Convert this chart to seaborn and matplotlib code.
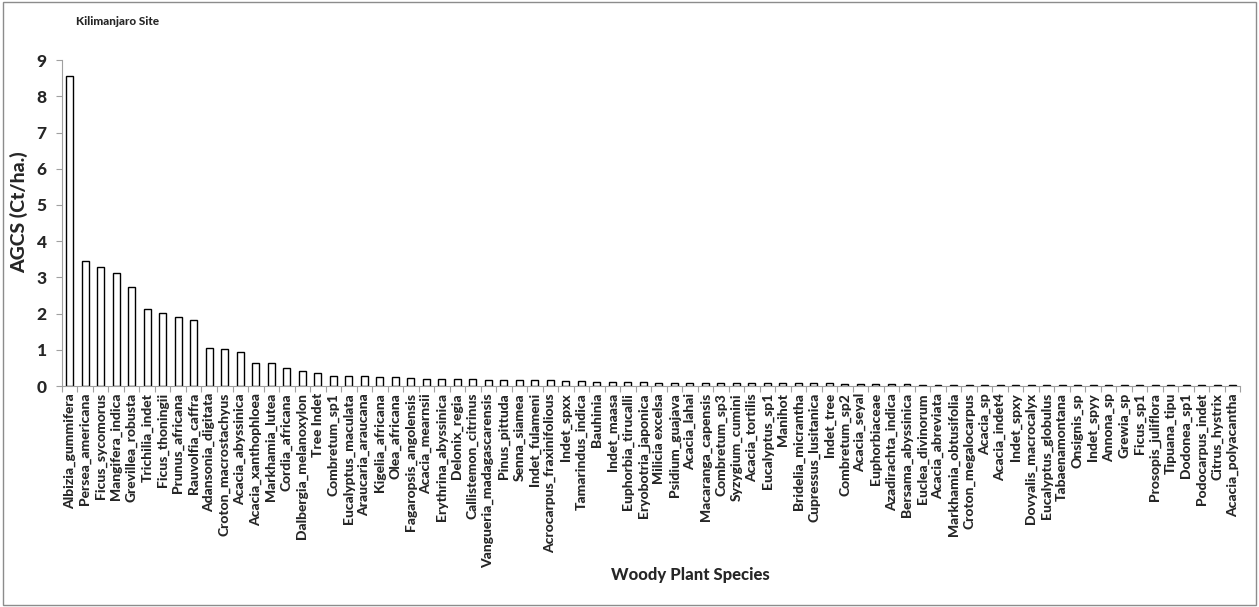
import numpy as np
import pandas as pd
import matplotlib
matplotlib.use("Agg")
import matplotlib.pyplot as plt
import seaborn as sns
from matplotlib.patches import Rectangle

species = [
    "Albizia_gummifera", "Persea_americana", "Ficus_sycomorus", "Mangifera_indica",
    "Grevillea_robusta", "Trichilia_indet", "Ficus_thoningii", "Prunus_africana",
    "Rauvolfia_caffra", "Adansonia_digitata", "Croton_macrostachyus", "Acacia_abyssinica",
    "Acacia_xanthophloea", "Markhamia_lutea", "Cordia_africana", "Dalbergia_melanoxylon",
    "Tree Indet", "Combretum_sp1", "Eucalyptus_maculata", "Araucaria_araucana",
    "Kigelia_africana", "Olea_africana", "Fagaropsis_angolensis", "Acacia_mearnsii",
    "Erythrina_abyssinica", "Delonix_regia", "Callistemon_citrinus", "Vangueria_madagascarensis",
    "Pinus_pittuda", "Senna_siamea", "Indet_fulameni", "Acrocarpus_fraxinifolious",
    "Indet_spxx", "Tamarindus_indica", "Bauhinia", "Indet_maasa",
    "Euphorbia_tirucalli", "Eryobotria_japonica", "Milicia excelsa", "Psidium_guajava",
    "Acacia_lahai", "Macaranga_capensis", "Combretum_sp3", "Syzygium_cumini",
    "Acacia_tortilis", "Eucalyptus_sp1", "Manihot", "Bridelia_micrantha",
    "Cupressus_lusitanica", "Indet_tree", "Combretum_sp2", "Acacia_seyal",
    "Euphorbiaceae", "Azadirachta_indica", "Bersama_abyssinica", "Euclea_divinorum",
    "Acacia_abreviata", "Markhamia_obtusifolia", "Croton_megalocarpus", "Acacia_sp",
    "Acacia_indet4", "Indet_spxy", "Dovyalis_macrocalyx", "Eucalyptus_globulus",
    "Tabaenamontana", "Onsignis_sp", "Indet_spyy", "Annona_sp",
    "Grewia_sp", "Ficus_sp1", "Prosopis_juliflora", "Tipuana_tipu",
    "Dodonea_sp1", "Podocarpus_indet", "Citrus_hystrix", "Acacia_polyacantha",
]

agcs = [
    8.55, 3.45, 3.28, 3.12, 2.73, 2.12, 2.01, 1.92, 1.83, 1.04,
    1.01, 0.93, 0.64, 0.64, 0.51, 0.42, 0.36, 0.29, 0.29, 0.27,
    0.25, 0.24, 0.22, 0.20, 0.20, 0.20, 0.20, 0.18, 0.18, 0.18,
    0.18, 0.16, 0.15, 0.15, 0.12, 0.10, 0.10, 0.10, 0.09, 0.09,
    0.09, 0.09, 0.09, 0.09, 0.09, 0.09, 0.08, 0.08, 0.08, 0.08,
    0.07, 0.07, 0.06, 0.05, 0.05, 0.04, 0.04, 0.04, 0.03, 0.03,
    0.03, 0.03, 0.03, 0.03, 0.03, 0.03, 0.02, 0.02, 0.02, 0.02,
    0.02, 0.02, 0.02, 0.02, 0.02, 0.02,
]

df = pd.DataFrame({"Species": species, "AGCS": agcs})

sns.set_theme(style="white")
plt.rcParams["font.family"] = ["Lato", "DejaVu Sans"]

fig = plt.figure(figsize=(12.59, 6.07), dpi=100)
ax = fig.add_axes([0.0492, 0.364, 0.936, 0.537])

sns.barplot(data=df, x="Species", y="AGCS", ax=ax, color="white",
            edgecolor="black", linewidth=1.0, width=0.45, saturation=1)

ax.set_ylim(0, 9)
ax.set_xlim(-0.5, len(species) - 0.5)
ax.set_yticks(range(0, 10))
ax.tick_params(axis="y", labelsize=12.5, length=4, width=0.8, color="#a0a0a0",
               direction="out", left=True, pad=7)
for t in ax.get_yticklabels():
    t.set_fontweight(900)

ax.set_xticks(range(len(species)))
ax.set_xticklabels(species, rotation=90, fontsize=10, fontweight=900)
ax.tick_params(axis="x", which="major", length=0, pad=5)
ax.set_xticks(np.arange(-0.5, len(species)), minor=True)
ax.tick_params(axis="x", which="minor", length=4, width=0.8, color="#a0a0a0",
               direction="out", bottom=True)

for side in ("top", "right"):
    ax.spines[side].set_visible(False)
for side in ("left", "bottom"):
    ax.spines[side].set_color("#a0a0a0")
    ax.spines[side].set_linewidth(0.8)

ax.set_ylabel("AGCS (Ct/ha.)", fontsize=14, fontweight=900)
ax.yaxis.set_label_coords(-0.029, 0.534)
ax.set_xlabel("")
fig.text(0.548, 0.052, "Woody Plant Species", ha="center", va="center",
         fontsize=12, fontweight=900)
fig.text(0.060, 0.965, "Kilimanjaro Site", ha="left", va="center",
         fontsize=8.5, fontweight=900)

fig.patches.append(Rectangle((0.002, 0.003), 0.996, 0.994, transform=fig.transFigure,
                             fill=False, edgecolor="#8c8c8c", linewidth=1.0))

fig.savefig("out.png", dpi=100)
